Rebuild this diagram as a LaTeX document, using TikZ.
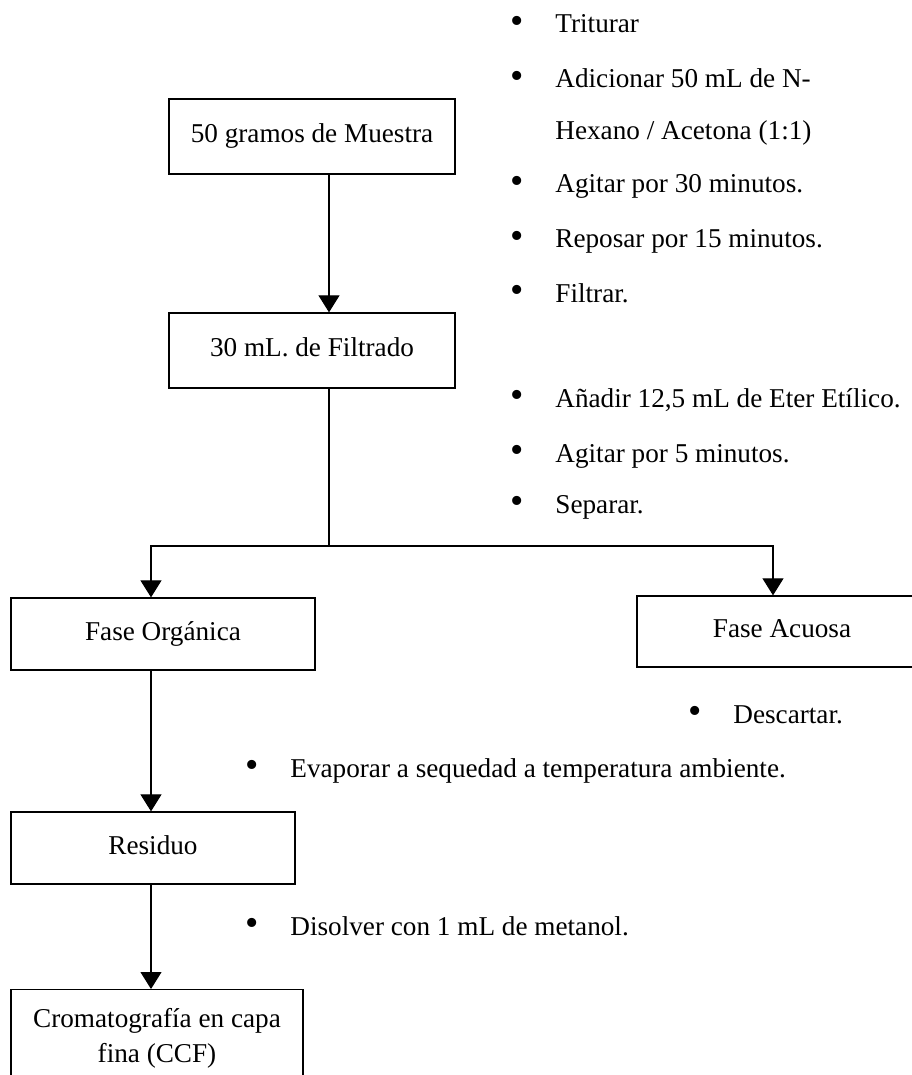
\documentclass[tikz,border=0pt]{standalone}
\usepackage{fontspec}
\setmainfont{Liberation Serif}
\usetikzlibrary{arrows.meta}

\tikzset{
  caja/.style={draw, line width=0.65pt, align=center, inner sep=0pt,
    font=\fontsize{13.6}{17.5}\selectfont},
  cajab/.style={caja, text height=9.5pt, text depth=3.4pt},
  flecha/.style={line width=0.55pt, -{Triangle[width=10.5pt,length=8.5pt]}},
  linea/.style={line width=0.55pt},
  paso/.style={anchor=base west, inner sep=0pt, font=\fontsize{13.6}{17.5}\selectfont},
  punto/.style={anchor=center, inner sep=0pt, font=\fontsize{19}{19}\selectfont}
}

\begin{document}
\begin{tikzpicture}[x=0.5pt, y=-0.5pt]
  \useasboundingbox (0,0) rectangle (911,1075);

  % cajas
  \node[cajab, minimum width=143pt, minimum height=37.5pt] (muestra) at (312,136.5) {50 gramos de Muestra};
  \node[cajab, minimum width=143pt, minimum height=37.5pt] (filtrado) at (312,350.5) {30 mL. de Filtrado};
  \node[cajab, minimum width=152pt, minimum height=36pt] (organica) at (163,634) {Fase Orgánica};
  \node[cajab, minimum width=145pt, minimum height=35.5pt] (acuosa) at (782,631.5) {Fase Acuosa};
  \node[cajab, minimum width=142pt, minimum height=36pt] (residuo) at (153,848) {Residuo};
  \node[caja, anchor=north, minimum width=146pt, minimum height=49pt] (ccf) at (157,989) {Cromatografía en capa\\ fina (CCF)};

  % conectores
  \coordinate (xm) at (329,0);
  \coordinate (xl) at (151,0);
  \coordinate (xr) at (773,0);
  \coordinate (split) at (329,546);
  \draw[flecha] (muestra.south -| xm) -- (filtrado.north -| xm);
  \draw[linea] (filtrado.south -| xm) -- (split);
  \draw[flecha] (split) -| (organica.north -| xl);
  \draw[flecha] (split) -| (acuosa.north -| xr);
  \draw[flecha] (organica.south -| xl) -- (residuo.north -| xl);
  \draw[flecha] (residuo.south -| xl) -- (ccf.north -| xl);

  % pasos
  \foreach \xb/\y/\t [count=\i] in {
      517/33/Triturar,
      517/88/Adicionar 50 mL de N-,
      517/193/Agitar por 30 minutos.,
      517/248/Reposar por 15 minutos.,
      517/302/Filtrar.,
      {517/407/Añadir 12,5 mL de Eter Etílico.},
      517/462/Agitar por 5 minutos.,
      517/513/Separar.,
      695/723/Descartar.,
      252/777/Evaporar a sequedad a temperatura ambiente.,
      252/935/Disolver con 1 mL de metanol.} {
    \node[punto] (p\i) at (\xb,{\y-8}) {•};
    \node[paso] (t\i) at ({\xb+38},\y) {\t};
  }
  \node[paso] (hexano) at (555,140) {Hexano / Acetona (1:1)};
\end{tikzpicture}
\end{document}
